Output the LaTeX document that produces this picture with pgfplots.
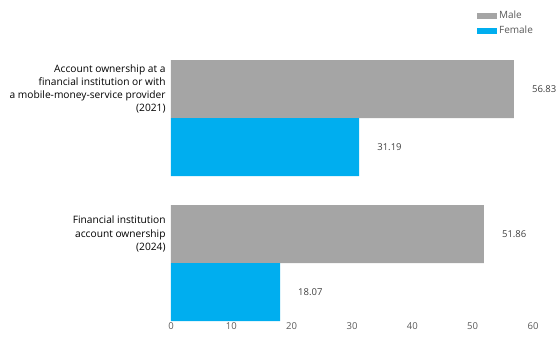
\documentclass[border=0pt]{standalone}
\usepackage{pgfplots}
\pgfplotsset{compat=1.18}
\usepackage{fontspec}
\setmainfont{Open Sans}
\definecolor{male}{HTML}{A5A5A5}
\definecolor{female}{HTML}{00AEEF}
\definecolor{ticktext}{HTML}{595959}
\definecolor{valtext}{HTML}{404040}
\begin{document}
\begin{tikzpicture}[x=1pt,y=1pt]
\path[use as bounding box] (-171,-17) rectangle (386,321);
\begin{axis}[
  at={(0,0)}, anchor=south west,
  scale only axis, width=362pt, height=261pt,
  xmin=0, xmax=60, ymin=-0.4, ymax=1.4,
  axis line style={draw=none},
  major tick style={draw=none},
  xtick={0,10,...,60},
  xticklabel style={font=\fontsize{9.5}{11}\selectfont, text=ticktext, inner sep=1pt},
  ytick={0.2,1.2},
  yticklabels={{Financial institution\\account ownership\\(2024)},{Account ownership at a\\financial institution or with\\a mobile-money-service provider\\(2021)}},
  yticklabel style={align=right, font=\fontsize{10.2}{13.2}\selectfont, text=black, inner sep=0pt, xshift=-1pt},
  /pgf/number format/assume math mode=true,
  xbar, bar width=0.4,
  point meta=x,
  nodes near coords={\pgfmathprintnumber[fixed,precision=2,fixed zerofill]{\pgfplotspointmeta}},
  nodes near coords style={anchor=west, inner sep=0pt, xshift=18pt, font=\fontsize{9.5}{11}\selectfont, text=valtext},
  legend style={at={(rel axis cs:0.845,1.198)}, anchor=north west, draw=none, fill=none, inner sep=0pt,
    font=\fontsize{10}{11}\selectfont, text=ticktext, row sep=0pt, cells={anchor=west},
    nodes={text height=7.5pt, text depth=2.5pt, inner ysep=2.5pt}},
  legend image code/.code={\fill[#1] (0pt,-3pt) rectangle (20pt,3.5pt);},
]
\addplot[fill=male, draw=none, bar shift=0.2] coordinates {(56.83,1) (51.86,0)};
\addlegendentry{Male}
\addplot[fill=female, draw=none, bar shift=-0.2] coordinates {(31.19,1) (18.07,0)};
\addlegendentry{Female}
\end{axis}
\end{tikzpicture}
\end{document}
